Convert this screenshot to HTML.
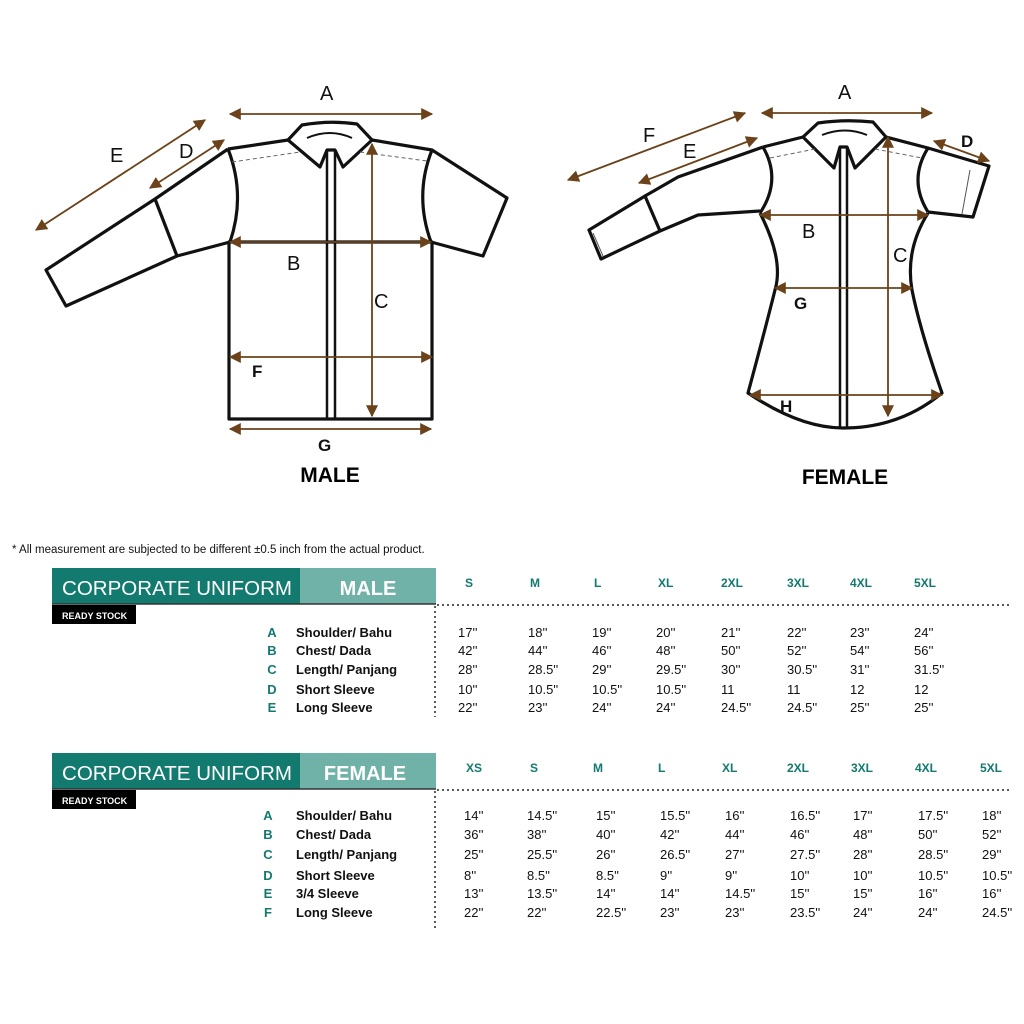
<!DOCTYPE html>
<html><head><meta charset="utf-8"><style>
html,body{margin:0;padding:0;background:#fff;}
svg{display:block;}
text{font-family:"Liberation Sans",sans-serif;}
</style></head><body>
<svg width="1024" height="1024" viewBox="0 0 1024 1024" xmlns="http://www.w3.org/2000/svg">
<defs>
<marker id="ah" viewBox="0 0 10 10" refX="9" refY="5" markerUnits="userSpaceOnUse" markerWidth="13" markerHeight="12" orient="auto-start-reverse">
<path d="M0,0 L10,5 L0,10 z" fill="#6b4219"/></marker>
</defs>
<rect width="1024" height="1024" fill="#fff"/>

<!-- MALE SHIRT -->
<g fill="none" stroke="#111" stroke-width="3.2" stroke-linejoin="round">
<path d="M228,149 L288,140 M372,140 L432,150 L507,198 L483,256 L431,242"/>
<path d="M228,149 Q246,195 230,242 M432,150 Q414,195 431,242"/>
<path d="M228,149 L155,199 L46,270 L66,306 L177,256 L230,242 M155,199 L177,256"/>
<rect x="229" y="242" width="203" height="177"/>
<path d="M288,140 L302,125 Q330,120 357,124 L372,140 L343,167 L335,150 L327,150 L320,167 Z"/>
<path d="M307,138 Q330,128 352,138" stroke-width="2"/>
<path d="M327,150 L327,419 M335,150 L335,419" stroke-width="2.5"/>
</g>
<path d="M232,162 L300,152 M360,152 L427,161" stroke="#666" stroke-width="1" stroke-dasharray="4,3" fill="none"/>
<g stroke="#6b4219" stroke-width="1.8" fill="none" marker-start="url(#ah)" marker-end="url(#ah)">
<line x1="230" y1="114" x2="432" y2="114"/>
<line x1="36" y1="230" x2="205" y2="120"/>
<line x1="150" y1="188" x2="224" y2="140"/>
<line x1="230" y1="242" x2="431" y2="242"/>
<line x1="372" y1="144" x2="372" y2="416"/>
<line x1="230" y1="357" x2="432" y2="357"/>
<line x1="230" y1="429" x2="431" y2="429"/>
</g>
<g font-size="20" fill="#111">
<text x="320" y="100">A</text><text x="110" y="162">E</text><text x="179" y="158">D</text>
<text x="287" y="270">B</text><text x="374" y="308">C</text>
<text x="252" y="377" font-weight="bold" font-size="17">F</text>
<text x="318" y="451" font-weight="bold" font-size="17">G</text>
</g>
<text x="330" y="482" font-size="21" font-weight="bold" text-anchor="middle">MALE</text>

<!-- FEMALE SHIRT -->
<g fill="none" stroke="#111" stroke-width="3.2" stroke-linejoin="round">
<path d="M763,147 L803,137 M886,137 L928,148 L989,166 L973,217 L928,212"/>
<path d="M763,147 Q782,180 760,213 M928,148 Q908,180 928,212"/>
<path d="M763,147 L678,177 L645,196 L589,230 L601,259 L660,231 L698,215 L760,211 M645,196 L660,231"/>
<path d="M760,213 Q784,260 775,290 Q765,330 748,393 Q800,428 843,428 Q900,428 942,393 Q920,330 912,290 Q905,250 928,213"/>
<path d="M803,137 L818,123 Q845,119 873,122 L886,137 L855,168 L847,147 L840,147 L834,168 Z"/>
<path d="M822,135 Q845,126 867,135" stroke-width="2"/>
<path d="M840,147 L840,428 M847,147 L847,428" stroke-width="2.5"/>
</g>
<path d="M770,158 L815,149 M875,149 L922,158" stroke="#666" stroke-width="1" stroke-dasharray="4,3" fill="none"/>
<line x1="593" y1="233" x2="603" y2="256" stroke="#555" stroke-width="1"/>
<line x1="970" y1="170" x2="962" y2="214" stroke="#555" stroke-width="1"/>
<g stroke="#6b4219" stroke-width="1.8" fill="none" marker-start="url(#ah)" marker-end="url(#ah)">
<line x1="762" y1="113" x2="932" y2="113"/>
<line x1="568" y1="180" x2="745" y2="113"/>
<line x1="639" y1="183" x2="757" y2="138"/>
<line x1="934" y1="141" x2="989" y2="161"/>
<line x1="760" y1="215" x2="928" y2="215"/>
<line x1="888" y1="137" x2="888" y2="416"/>
<line x1="775" y1="288" x2="912" y2="288"/>
<line x1="750" y1="395" x2="942" y2="395"/>
</g>
<g font-size="20" fill="#111">
<text x="838" y="99">A</text><text x="643" y="142">F</text><text x="683" y="158">E</text>
<text x="961" y="147" font-weight="bold" font-size="17">D</text>
<text x="802" y="238">B</text><text x="893" y="262">C</text>
<text x="794" y="309" font-weight="bold" font-size="17">G</text>
<text x="780" y="412" font-weight="bold" font-size="17">H</text>
</g>
<text x="845" y="484" font-size="21" font-weight="bold" text-anchor="middle">FEMALE</text>

<text x="12" y="553" font-size="11.5" fill="#111">* All measurement are subjected to be different  ±0.5 inch from the actual product.</text>

<!-- MALE TABLE -->
<rect x="52" y="568" width="248" height="36" fill="#137a6f"/>
<rect x="300" y="568" width="136" height="36" fill="#70b2a8"/>
<line x1="52" y1="604" x2="436" y2="604" stroke="#333" stroke-width="1.5"/>
<text x="62" y="595" font-size="20" fill="#fff" textLength="230" lengthAdjust="spacingAndGlyphs">CORPORATE UNIFORM</text>
<text x="368" y="595" font-size="20" fill="#fff" font-weight="bold" text-anchor="middle">MALE</text>
<rect x="52" y="605" width="84" height="19" fill="#000"/>
<text x="62" y="619" font-size="9" font-weight="bold" fill="#fff">READY STOCK</text>
<line x1="437" y1="605" x2="1010" y2="605" stroke="#222" stroke-width="1.5" stroke-dasharray="2,3"/>
<line x1="435" y1="606" x2="435" y2="717" stroke="#222" stroke-width="1.5" stroke-dasharray="2,3"/>
<g font-size="12" font-weight="bold" fill="#137a6f">
<text x="465" y="587">S</text><text x="530" y="587">M</text><text x="594" y="587">L</text><text x="658" y="587">XL</text><text x="721" y="587">2XL</text><text x="787" y="587">3XL</text><text x="850" y="587">4XL</text><text x="914" y="587">5XL</text>
</g>
<g font-size="13" font-weight="bold">
<g fill="#137a6f" text-anchor="middle"><text x="272" y="637">A</text><text x="272" y="655">B</text><text x="272" y="674">C</text><text x="272" y="694">D</text><text x="272" y="712">E</text></g>
<g fill="#111"><text x="296" y="637">Shoulder/ Bahu</text><text x="296" y="655">Chest/ Dada</text><text x="296" y="674">Length/ Panjang</text><text x="296" y="694">Short Sleeve</text><text x="296" y="712">Long Sleeve</text></g>
</g>
<g font-size="13" fill="#111">
<text y="637"><tspan x="458">17''</tspan><tspan x="528">18''</tspan><tspan x="592">19''</tspan><tspan x="656">20''</tspan><tspan x="721">21''</tspan><tspan x="787">22''</tspan><tspan x="850">23''</tspan><tspan x="914">24''</tspan></text>
<text y="655"><tspan x="458">42''</tspan><tspan x="528">44''</tspan><tspan x="592">46''</tspan><tspan x="656">48''</tspan><tspan x="721">50''</tspan><tspan x="787">52''</tspan><tspan x="850">54''</tspan><tspan x="914">56''</tspan></text>
<text y="674"><tspan x="458">28''</tspan><tspan x="528">28.5''</tspan><tspan x="592">29''</tspan><tspan x="656">29.5''</tspan><tspan x="721">30''</tspan><tspan x="787">30.5''</tspan><tspan x="850">31''</tspan><tspan x="914">31.5''</tspan></text>
<text y="694"><tspan x="458">10''</tspan><tspan x="528">10.5''</tspan><tspan x="592">10.5''</tspan><tspan x="656">10.5''</tspan><tspan x="721">11</tspan><tspan x="787">11</tspan><tspan x="850">12</tspan><tspan x="914">12</tspan></text>
<text y="712"><tspan x="458">22''</tspan><tspan x="528">23''</tspan><tspan x="592">24''</tspan><tspan x="656">24''</tspan><tspan x="721">24.5''</tspan><tspan x="787">24.5''</tspan><tspan x="850">25''</tspan><tspan x="914">25''</tspan></text>
</g>

<!-- FEMALE TABLE -->
<rect x="52" y="753" width="248" height="36" fill="#137a6f"/>
<rect x="300" y="753" width="136" height="36" fill="#70b2a8"/>
<line x1="52" y1="789" x2="436" y2="789" stroke="#333" stroke-width="1.5"/>
<text x="62" y="780" font-size="20" fill="#fff" textLength="230" lengthAdjust="spacingAndGlyphs">CORPORATE UNIFORM</text>
<text x="365" y="780" font-size="20" fill="#fff" font-weight="bold" text-anchor="middle">FEMALE</text>
<rect x="52" y="790" width="84" height="19" fill="#000"/>
<text x="62" y="804" font-size="9" font-weight="bold" fill="#fff">READY STOCK</text>
<line x1="437" y1="790" x2="1010" y2="790" stroke="#222" stroke-width="1.5" stroke-dasharray="2,3"/>
<line x1="435" y1="791" x2="435" y2="930" stroke="#222" stroke-width="1.5" stroke-dasharray="2,3"/>
<g font-size="12" font-weight="bold" fill="#137a6f">
<text x="466" y="772">XS</text><text x="530" y="772">S</text><text x="593" y="772">M</text><text x="658" y="772">L</text><text x="722" y="772">XL</text><text x="787" y="772">2XL</text><text x="851" y="772">3XL</text><text x="915" y="772">4XL</text><text x="980" y="772">5XL</text>
</g>
<g font-size="13" font-weight="bold">
<g fill="#137a6f" text-anchor="middle"><text x="268" y="820">A</text><text x="268" y="839">B</text><text x="268" y="859">C</text><text x="268" y="880">D</text><text x="268" y="898">E</text><text x="268" y="917">F</text></g>
<g fill="#111"><text x="296" y="820">Shoulder/ Bahu</text><text x="296" y="839">Chest/ Dada</text><text x="296" y="859">Length/ Panjang</text><text x="296" y="880">Short Sleeve</text><text x="296" y="898">3/4 Sleeve</text><text x="296" y="917">Long Sleeve</text></g>
</g>
<g font-size="13" fill="#111">
<text y="820"><tspan x="464">14''</tspan><tspan x="527">14.5''</tspan><tspan x="596">15''</tspan><tspan x="660">15.5''</tspan><tspan x="725">16''</tspan><tspan x="790">16.5''</tspan><tspan x="853">17''</tspan><tspan x="918">17.5''</tspan><tspan x="982">18''</tspan></text>
<text y="839"><tspan x="464">36''</tspan><tspan x="527">38''</tspan><tspan x="596">40''</tspan><tspan x="660">42''</tspan><tspan x="725">44''</tspan><tspan x="790">46''</tspan><tspan x="853">48''</tspan><tspan x="918">50''</tspan><tspan x="982">52''</tspan></text>
<text y="859"><tspan x="464">25''</tspan><tspan x="527">25.5''</tspan><tspan x="596">26''</tspan><tspan x="660">26.5''</tspan><tspan x="725">27''</tspan><tspan x="790">27.5''</tspan><tspan x="853">28''</tspan><tspan x="918">28.5''</tspan><tspan x="982">29''</tspan></text>
<text y="880"><tspan x="464">8''</tspan><tspan x="527">8.5''</tspan><tspan x="596">8.5''</tspan><tspan x="660">9''</tspan><tspan x="725">9''</tspan><tspan x="790">10''</tspan><tspan x="853">10''</tspan><tspan x="918">10.5''</tspan><tspan x="982">10.5''</tspan></text>
<text y="898"><tspan x="464">13''</tspan><tspan x="527">13.5''</tspan><tspan x="596">14''</tspan><tspan x="660">14''</tspan><tspan x="725">14.5''</tspan><tspan x="790">15''</tspan><tspan x="853">15''</tspan><tspan x="918">16''</tspan><tspan x="982">16''</tspan></text>
<text y="917"><tspan x="464">22''</tspan><tspan x="527">22''</tspan><tspan x="596">22.5''</tspan><tspan x="660">23''</tspan><tspan x="725">23''</tspan><tspan x="790">23.5''</tspan><tspan x="853">24''</tspan><tspan x="918">24''</tspan><tspan x="982">24.5''</tspan></text>
</g>
</svg>
</body></html>
